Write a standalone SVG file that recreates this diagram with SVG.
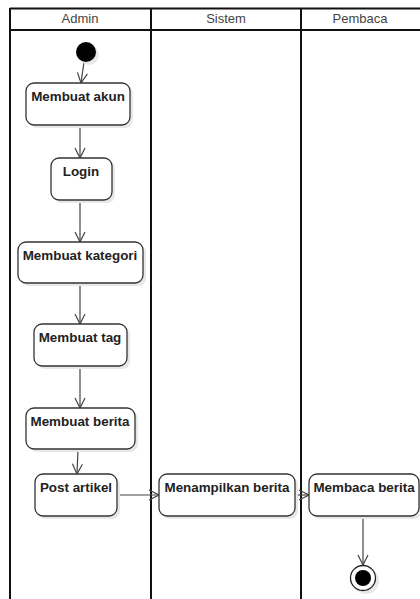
<svg xmlns="http://www.w3.org/2000/svg" width="420" height="599" viewBox="0 0 420 599">
<style>
.lane{fill:none;stroke:#111;stroke-width:2}
.hdr{font-family:"Liberation Sans",Arial,sans-serif;font-size:13px;fill:#444;text-anchor:middle}
.box{fill:#fff;stroke:#333;stroke-width:1.3}
.sh{fill:#e8e8e8}
.lbl{font-family:"Liberation Sans",Arial,sans-serif;font-size:13.4px;font-weight:bold;fill:#222;text-anchor:middle}
.edge{fill:none;stroke:#444;stroke-width:1.2;marker-end:url(#arr)}
</style>
<defs>
<marker id="arr" viewBox="0 0 12 12" refX="11" refY="6" markerWidth="12" markerHeight="12" markerUnits="userSpaceOnUse" orient="auto">
<path d="M1,1 L11,6 L1,11" fill="none" stroke="#444" stroke-width="1.2"/>
</marker>
</defs>
<g id="lanes">
<rect x="0" y="0" width="420" height="599" fill="#fff"/>
<line class="lane" x1="10" y1="8.5" x2="420" y2="8.5"/>
<line class="lane" x1="10" y1="30" x2="420" y2="30"/>
<line class="lane" x1="10" y1="8" x2="10" y2="599"/>
<line class="lane" x1="151" y1="8" x2="151" y2="599"/>
<line class="lane" x1="301" y1="8" x2="301" y2="599"/>
<text class="hdr" x="80" y="23">Admin</text>
<text class="hdr" x="226" y="23">Sistem</text>
<text class="hdr" x="360" y="23">Pembaca</text>
</g>
<g id="connectors">
<path class="edge" d="M84,62 L81,83"/>
<path class="edge" d="M80,125 L80,158"/>
<path class="edge" d="M80,200 L80,242"/>
<path class="edge" d="M80,283 L80,324"/>
<path class="edge" d="M80,366 L80,408"/>
<path class="edge" d="M78,449 L77,474"/>
<path class="edge" d="M117,495 L159,495"/>
<path class="edge" d="M295,495 L309,495"/>
<path class="edge" d="M363,516 L363,565"/>
</g>
<g id="start">
<circle cx="89" cy="55" r="10" fill="#e8e8e8"/>
<circle cx="86" cy="52" r="10" fill="#000"/>
</g>
<g id="n1">
<rect class="sh" x="29" y="86" width="104" height="42" rx="8"/>
<rect class="box" x="26" y="83" width="104" height="42" rx="8"/>
<text class="lbl" x="78" y="101">Membuat akun</text>
</g>
<g id="n2">
<rect class="sh" x="54" y="161" width="61" height="42" rx="8"/>
<rect class="box" x="51" y="158" width="61" height="42" rx="8"/>
<text class="lbl" x="81" y="176">Login</text>
</g>
<g id="n3">
<rect class="sh" x="21" y="245" width="125" height="41" rx="8"/>
<rect class="box" x="18" y="242" width="125" height="41" rx="8"/>
<text class="lbl" x="80" y="260">Membuat kategori</text>
</g>
<g id="n4">
<rect class="sh" x="37" y="327" width="93" height="42" rx="8"/>
<rect class="box" x="34" y="324" width="93" height="42" rx="8"/>
<text class="lbl" x="80" y="342">Membuat tag</text>
</g>
<g id="n5">
<rect class="sh" x="29" y="411" width="109" height="41" rx="8"/>
<rect class="box" x="26" y="408" width="109" height="41" rx="8"/>
<text class="lbl" x="80" y="426">Membuat berita</text>
</g>
<g id="n6">
<rect class="sh" x="38" y="477" width="82" height="42" rx="8"/>
<rect class="box" x="35" y="474" width="82" height="42" rx="8"/>
<text class="lbl" x="76" y="492">Post artikel</text>
</g>
<g id="n7">
<rect class="sh" x="162" y="477" width="136" height="42" rx="8"/>
<rect class="box" x="159" y="474" width="136" height="42" rx="8"/>
<text class="lbl" x="227" y="492">Menampilkan berita</text>
</g>
<g id="n8">
<rect class="sh" x="312" y="477" width="110" height="42" rx="8"/>
<rect class="box" x="309" y="474" width="110" height="42" rx="8"/>
<text class="lbl" x="364" y="492">Membaca berita</text>
</g>
<g id="end">
<circle cx="366" cy="581" r="13" fill="#e8e8e8"/>
<circle cx="363" cy="578" r="12.5" fill="#fff" stroke="#222" stroke-width="1.3"/>
<circle cx="363" cy="578" r="8" fill="#000"/>
</g>
</svg>
